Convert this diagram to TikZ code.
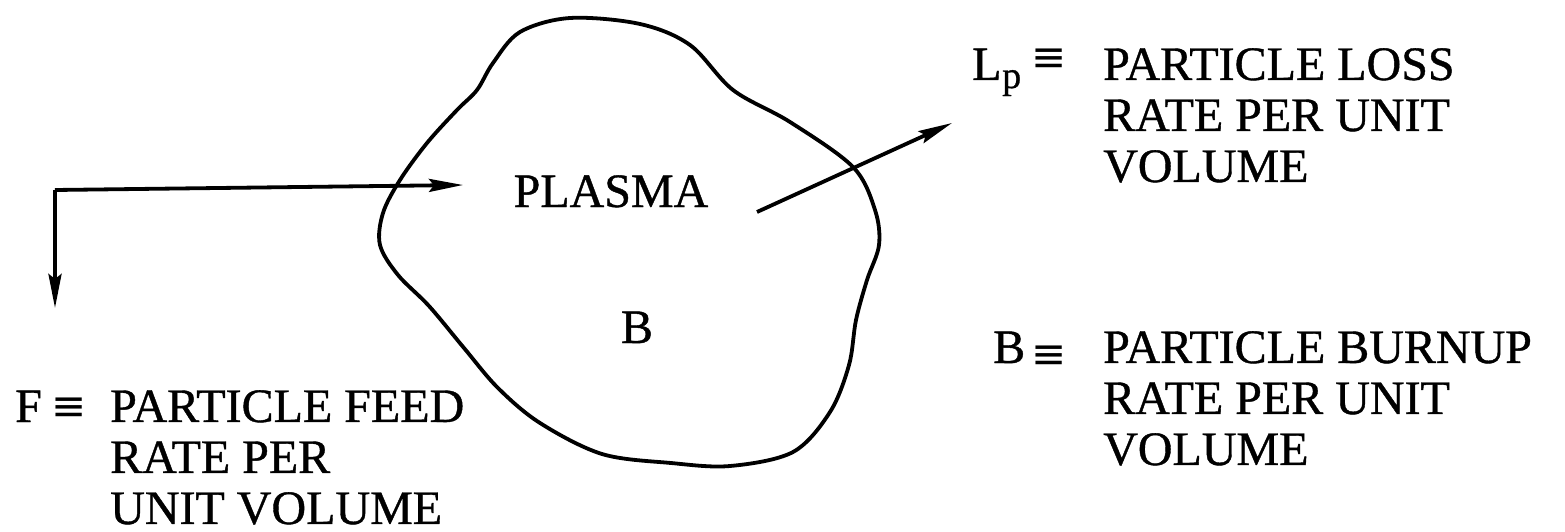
\documentclass[tikz,border=0pt]{standalone}
\usepackage{fontspec}
\setmainfont{Liberation Serif}[FakeBold=0.8]
\newfontfamily\symf{DejaVu Sans}
\usetikzlibrary{arrows.meta}
\tikzset{
  txt/.style={inner sep=0pt, font=\fontsize{48}{51}\selectfont},
  deftxt/.style={txt, anchor=north west, align=left},
  eqv/.style={inner sep=0pt, font=\symf\fontsize{42}{42}\selectfont},
  arr/.style={line width=3.8pt, -{Stealth[length=34pt,width=13pt,inset=5pt]}},
  blob/.style={line width=3.8pt, line join=round}
}
\begin{document}
\begin{tikzpicture}[x=1pt,y=-1pt]
\useasboundingbox (0,0) rectangle (1565,532);
% plasma outline
\draw[blob] plot[smooth cycle, tension=0.55] coordinates {
 (570,18) (640,24) (690,45) (733,90) (790,122) (853,167) (875,210) (879,245)
 (867,280) (856,320) (849,365) (830,412) (793,452) (730,466) (671,463)
 (602,454) (540,423) (498,388) (464,348) (429,306) (398,275) (380,245)
 (383,213) (400,180) (427,143) (457,110) (477,90) (493,63) (520,32)};
% labels inside
\node[txt, anchor=base] (plasma) at (611,207) {PLASMA};
\node[txt, anchor=base] (bin) at (637,343) {B};
% feed arrow
\coordinate (fdown) at (55,308);
\coordinate (fcorner) at (55,190);
\coordinate (fright) at (463,185);
\draw[arr] (fcorner) -- (fdown);
\draw[arr] (fcorner) -- (fright);
% loss arrow
\coordinate (lstart) at (757,212);
\coordinate (lend) at (952,123);
\draw[arr] (lstart) -- (lend);
% F definition
\node[txt, anchor=base west] (fsym) at (15,422) {F};
\node[eqv] (feq) at (69,409) {≡};
\node[deftxt] (ftext) at (110,390) {PARTICLE FEED\\RATE PER\\UNIT VOLUME};
% Lp definition
\node[txt, anchor=base west] (lsym) at (972,80) {L};
\node[inner sep=0pt, anchor=base west, font=\fontsize{38}{38}\selectfont] (psym) at (1002,88) {p};
\node[eqv] (leq) at (1049,60) {≡};
\node[deftxt] (ltext) at (1103,48) {PARTICLE LOSS\\RATE PER UNIT\\VOLUME};
% B definition
\node[txt, anchor=base west] (bsym) at (993,363) {B};
\node[eqv] (beq) at (1049,357) {≡};
\node[deftxt] (btext) at (1103,331) {PARTICLE BURNUP\\RATE PER UNIT\\VOLUME};
\end{tikzpicture}
\end{document}
